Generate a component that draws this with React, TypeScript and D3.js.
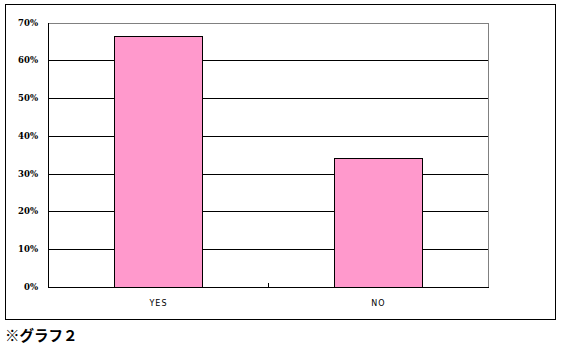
import React from "react";
import * as d3 from "d3";

const categories: string[] = ["YES", "NO"];
const values: number[] = [0.664, 0.341];
const yTicks: number[] = [0, 0.1, 0.2, 0.3, 0.4, 0.5, 0.6, 0.7];
const caption = "※グラフ２";

export default function App() {
  const W = 561, H = 351;
  const plot = { left: 48, top: 22.5, right: 488, bottom: 287 };
  const x = d3.scaleBand<string>().domain(categories).range([plot.left, plot.right]).paddingInner(0).paddingOuter(0);
  const y = d3.scaleLinear().domain([0, 0.7]).range([plot.bottom, plot.top]);
  const band = x.bandwidth();
  const barW = band / 2.5;
  const fmt = d3.format(".0%");
  return (
    <svg width={W} height={H} style={{ position: "absolute", left: 0, top: 0, background: "#fff" }}>
      <rect x={5.5} y={4.5} width={550} height={315} fill="#fff" stroke="#000" strokeWidth={1} />
      {yTicks.map((t, i) => {
        const yy = Math.round(y(t)) + 0.5;
        const isTop = i === yTicks.length - 1;
        return (
          <g key={t}>
            {t > 0 && (
              <line x1={plot.left} x2={plot.right} y1={yy} y2={yy} stroke={isTop ? "#808080" : "#000"} strokeWidth={1} />
            )}
            <text x={38} y={yy} dy="0.35em" textAnchor="end" fontFamily="'DejaVu Serif', serif" fontWeight="bold" fontSize={8.5} fill="#000">
              {fmt(t)}
            </text>
          </g>
        );
      })}
      <line x1={plot.right + 0.5} x2={plot.right + 0.5} y1={Math.round(y(0.7))} y2={plot.bottom} stroke="#808080" strokeWidth={1} />
      {categories.map((c, i) => {
        const cx = (x(c) as number) + band / 2;
        const top = y(values[i]);
        return (
          <g key={c}>
            <rect x={Math.round(cx - barW / 2) + 0.5} y={Math.round(top) + 0.5} width={Math.round(barW)} height={plot.bottom - Math.round(top)} fill="#ff99cc" stroke="#000" strokeWidth={1} />
            <text x={cx + 0.5} y={306} textAnchor="middle" fontFamily="'DejaVu Sans', sans-serif" fontSize={8} letterSpacing={1} fill="#000">
              {c}
            </text>
          </g>
        );
      })}
      {categories.slice(1).map((c) => {
        const xx = Math.round(x(c) as number) + 0.5;
        return <line key={"t" + c} x1={xx} x2={xx} y1={plot.bottom - 4} y2={plot.bottom} stroke="#000" strokeWidth={1} />;
      })}
      <line x1={plot.left + 0.5} x2={plot.left + 0.5} y1={Math.round(y(0.7))} y2={plot.bottom + 0.5} stroke="#000" strokeWidth={1} />
      <line x1={plot.left} x2={plot.right + 1} y1={plot.bottom + 0.5} y2={plot.bottom + 0.5} stroke="#000" strokeWidth={1} />
      <text x={5} y={341} fontFamily="'Noto Sans CJK JP', sans-serif" fontWeight="bold" fontSize={14.5} fill="#000">
        {caption}
      </text>
    </svg>
  );
}
